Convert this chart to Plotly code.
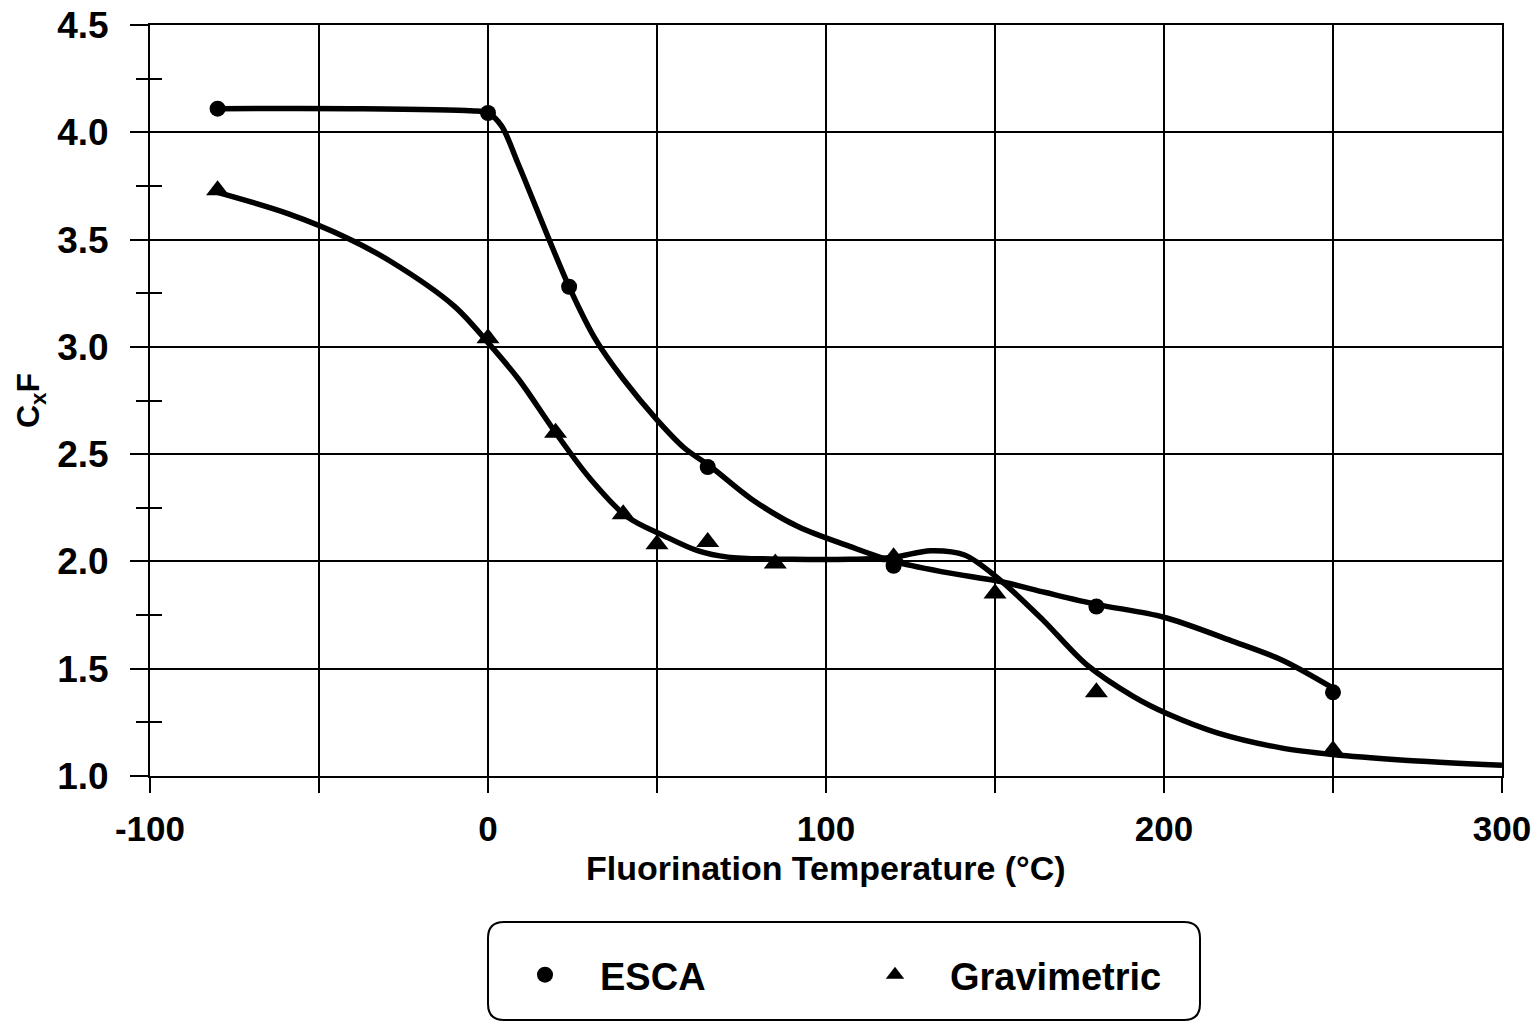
import plotly.graph_objects as go

# Measured points
esca_x = [-80, 0, 24, 65, 120, 180, 250]
esca_y = [4.11, 4.09, 3.28, 2.44, 1.98, 1.79, 1.39]
grav_x = [-80, 0, 20, 40, 50, 65, 85, 120, 150, 180, 250]
grav_y = [3.73, 3.04, 2.60, 2.22, 2.08, 2.09, 1.99, 2.02, 1.85, 1.39, 1.12]

# Fitted curves
esca_fit_x = [-80, -40, -5, 0, 4, 9, 24, 32, 40, 50, 58, 66, 78, 92, 107, 120, 135, 152, 165, 180, 200, 220, 235, 250]
esca_fit_y = [4.11, 4.11, 4.10, 4.09, 4.03, 3.85, 3.28, 3.03, 2.85, 2.66, 2.53, 2.44, 2.29, 2.16, 2.07, 2.00, 1.95, 1.905, 1.855, 1.80, 1.74, 1.63, 1.54, 1.41]
grav_fit_x = [-80, -59, -42, -29, -10, 0, 9, 20, 30, 41, 52, 62, 71, 90, 107, 120, 131, 141, 151, 164, 177, 191, 201, 216, 235, 250, 270, 300]
grav_fit_y = [3.72, 3.62, 3.51, 3.40, 3.19, 3.02, 2.85, 2.60, 2.39, 2.21, 2.12, 2.05, 2.02, 2.01, 2.01, 2.02, 2.05, 2.03, 1.92, 1.73, 1.52, 1.37, 1.29, 1.20, 1.13, 1.10, 1.075, 1.05]

x_tick_vals = [-100, 0, 100, 200, 300]
x_tick_labels = ["-100", "0", "100", "200", "300"]

FONT = "Liberation Sans, Arial, sans-serif"

fig = go.Figure()
fig.add_trace(go.Scatter(x=esca_fit_x, y=esca_fit_y, mode="lines",
                         line=dict(color="black", width=5.5, shape="spline", smoothing=0.9),
                         showlegend=False, hoverinfo="skip"))
fig.add_trace(go.Scatter(x=grav_fit_x, y=grav_fit_y, mode="lines",
                         line=dict(color="black", width=5.5, shape="spline", smoothing=0.9),
                         showlegend=False, hoverinfo="skip"))
fig.add_trace(go.Scatter(x=esca_x, y=esca_y, mode="markers", name="ESCA",
                         marker=dict(symbol="circle", size=16, color="black")))
fig.add_trace(go.Scatter(x=grav_x, y=grav_y, mode="markers", name="Gravimetric",
                         marker=dict(symbol="triangle-up", size=20, color="black")))

# invisible trace on a secondary y axis for the inward half of the cross ticks
fig.add_trace(go.Scatter(x=[None], y=[None], yaxis="y2", showlegend=False, hoverinfo="skip"))

L, R, T, B = 150, 35, 25, 247
W, H = 1537, 1023
pw = W - L - R
ph = H - T - B

fig.update_layout(
    width=W, height=H,
    margin=dict(l=L, r=R, t=T, b=B),
    paper_bgcolor="white", plot_bgcolor="white",
    font=dict(family=FONT, color="black", weight="bold"),
    xaxis=dict(range=[-100, 300], tickvals=x_tick_vals, ticktext=x_tick_labels,
               showgrid=True, gridcolor="black", gridwidth=2,
               showline=True, linecolor="black", linewidth=2, mirror=True,
               ticks="outside", ticklen=15, tickwidth=2, tickcolor="black",
               minor=dict(dtick=50, tick0=-100, ticks="outside", ticklen=15, tickwidth=2,
                          tickcolor="black", showgrid=True, gridcolor="black", gridwidth=2),
               tickfont=dict(family=FONT, size=35, weight="bold"),
               ticklabelstandoff=6,
               zeroline=False, automargin=False),
    yaxis=dict(range=[1, 4.5], dtick=0.5, tick0=1, tickformat=".1f",
               showgrid=True, gridcolor="black", gridwidth=2,
               showline=True, linecolor="black", linewidth=2, mirror=True,
               ticks="outside", ticklen=18, tickwidth=2, tickcolor="black",
               minor=dict(dtick=0.25, ticks="outside", ticklen=12, tickwidth=2, tickcolor="black",
                          showgrid=False),
               tickfont=dict(family=FONT, size=37, weight="bold"),
               ticklabelstandoff=14,
               zeroline=False, automargin=False,
               title=dict(text="C<sub>x</sub>F", standoff=8,
                          font=dict(family=FONT, size=32, weight="bold"))),
    yaxis2=dict(range=[1, 4.5], overlaying="y", side="left", showgrid=False,
                showticklabels=False, ticks="", zeroline=False, showline=False,
                automargin=False,
                minor=dict(dtick=0.25, ticks="inside", ticklen=12, tickwidth=2, tickcolor="black")),
    legend=dict(orientation="h", x=(490 - L) / pw, xanchor="left",
                y=(H - B - 975) / ph, yanchor="middle",
                itemwidth=100, entrywidth=235, entrywidthmode="pixels",
                font=dict(family=FONT, size=38, weight="bold"),
                bgcolor="rgba(0,0,0,0)", borderwidth=0),
    showlegend=True,
)

# x-axis title
fig.add_annotation(text="Fluorination Temperature (°C)", xref="paper", yref="paper",
                   x=0.5, y=(H - B - 868) / ph, xanchor="center", yanchor="middle",
                   showarrow=False, font=dict(family=FONT, size=34, weight="bold"))

# rounded legend frame
x0, x1 = (488 - L) / pw, (1200 - L) / pw
y0, y1 = (H - B - 1020) / ph, (H - B - 922) / ph
rx, ry = 16 / pw, 16 / ph
path = (f"M {x0+rx} {y1} L {x1-rx} {y1} Q {x1} {y1} {x1} {y1-ry} "
        f"L {x1} {y0+ry} Q {x1} {y0} {x1-rx} {y0} L {x0+rx} {y0} "
        f"Q {x0} {y0} {x0} {y0+ry} L {x0} {y1-ry} Q {x0} {y1} {x0+rx} {y1} Z")
fig.add_shape(type="path", path=path, xref="paper", yref="paper",
              line=dict(color="black", width=2), fillcolor="rgba(0,0,0,0)")

fig.write_html("out.html")
